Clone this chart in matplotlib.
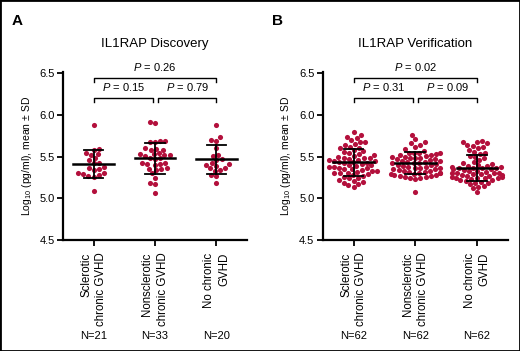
import numpy as np
import matplotlib
matplotlib.use("Agg")
import matplotlib.pyplot as plt
import matplotlib.transforms as mtransforms
import seaborn as sns

plt.rcParams['font.family'] = ['Liberation Sans', 'DejaVu Sans']
plt.rcParams['mathtext.fontset'] = 'custom'
plt.rcParams['mathtext.rm'] = 'Liberation Sans'
plt.rcParams['mathtext.it'] = 'Liberation Sans:italic'

# categories / labels
groups = ['Sclerotic\nchronic GVHD', 'Nonsclerotic\nchronic GVHD', 'No chronic\nGVHD']

# panel A: discovery
disc_scl = [5.88, 5.59, 5.58, 5.53, 5.52, 5.55, 5.48, 5.46, 5.43, 5.42, 5.37,
            5.38, 5.34, 5.30, 5.28, 5.27, 5.26, 5.29, 5.31, 5.09, 5.35]
disc_non = [5.90, 5.91, 5.69, 5.68, 5.67, 5.69, 5.59, 5.58, 5.58, 5.60, 5.53,
            5.52, 5.54, 5.51, 5.53, 5.52, 5.48, 5.48, 5.47, 5.41, 5.42, 5.40,
            5.41, 5.42, 5.35, 5.36, 5.35, 5.34, 5.25, 5.30, 5.19, 5.17, 5.06]
disc_no = [5.88, 5.73, 5.69, 5.70, 5.61, 5.51, 5.52, 5.46, 5.47, 5.40, 5.41,
           5.39, 5.42, 5.37, 5.36, 5.33, 5.34, 5.28, 5.27, 5.19]

# panel B: verification
ver_scl = [5.79, 5.76, 5.74, 5.72, 5.70, 5.68, 5.67, 5.65, 5.64, 5.62,
           5.61, 5.60, 5.58, 5.57, 5.56, 5.55, 5.53, 5.52, 5.51, 5.50,
           5.49, 5.48, 5.48, 5.47, 5.46, 5.46, 5.45, 5.45, 5.44, 5.44,
           5.43, 5.42, 5.41, 5.40, 5.40, 5.39, 5.38, 5.38, 5.37, 5.36,
           5.35, 5.35, 5.34, 5.33, 5.33, 5.32, 5.31, 5.30, 5.30, 5.29,
           5.28, 5.27, 5.26, 5.25, 5.24, 5.22, 5.21, 5.20, 5.19, 5.17,
           5.16, 5.14]
ver_non = [5.76, 5.71, 5.68, 5.66, 5.64, 5.62, 5.59, 5.57, 5.55, 5.55,
           5.54, 5.54, 5.53, 5.52, 5.52, 5.51, 5.50, 5.50, 5.49, 5.49,
           5.48, 5.47, 5.47, 5.46, 5.45, 5.45, 5.44, 5.44, 5.43, 5.42,
           5.42, 5.41, 5.40, 5.40, 5.39, 5.38, 5.38, 5.37, 5.36, 5.36,
           5.35, 5.35, 5.34, 5.33, 5.33, 5.32, 5.32, 5.31, 5.30, 5.30,
           5.29, 5.29, 5.28, 5.28, 5.27, 5.27, 5.26, 5.26, 5.25, 5.24,
           5.23, 5.08]
ver_no = [5.69, 5.68, 5.67, 5.66, 5.64, 5.63, 5.62, 5.60, 5.58, 5.56,
          5.55, 5.53, 5.51, 5.50, 5.48, 5.46, 5.44, 5.42, 5.41, 5.40,
          5.39, 5.39, 5.38, 5.38, 5.37, 5.37, 5.36, 5.36, 5.35, 5.35,
          5.34, 5.33, 5.33, 5.32, 5.31, 5.31, 5.30, 5.30, 5.29, 5.29,
          5.28, 5.28, 5.27, 5.27, 5.26, 5.26, 5.25, 5.25, 5.24, 5.24,
          5.23, 5.22, 5.22, 5.21, 5.20, 5.19, 5.18, 5.17, 5.15, 5.14,
          5.12, 5.08]

pvals_A = ['0.15', '0.79', '0.26']
pvals_B = ['0.31', '0.09', '0.02']

dot_color = '#b3103c'

fig = plt.figure(figsize=(5.2, 3.51), dpi=100)
fig.add_artist(plt.Rectangle((0, 0), 1, 1, transform=fig.transFigure,
                             fill=False, lw=2, edgecolor='black'))


def panel(ax, data, title, letter, pvals):
    pos = np.arange(3)
    xs = np.concatenate([np.full(len(d), p) for p, d in zip(pos, data)])
    ys = np.concatenate(data)
    sns.swarmplot(x=xs, y=ys, native_scale=True, ax=ax, color=dot_color,
                  size=3.7, linewidth=0, zorder=2)
    for p, d in zip(pos, data):
        m = np.mean(d); s = np.std(d, ddof=1)
        ax.plot([p - 0.33, p + 0.33], [m, m], color='black', lw=1.8, zorder=3)
        ax.plot([p, p], [m - s, m + s], color='black', lw=1.3, zorder=3)
        ax.plot([p - 0.16, p + 0.16], [m + s, m + s], color='black', lw=1.3, zorder=3)
        ax.plot([p - 0.16, p + 0.16], [m - s, m - s], color='black', lw=1.3, zorder=3)

    ax.set_xlim(-0.5, 2.5)
    ax.set_ylim(4.5, 6.52)
    ax.set_yticks([4.5, 5.0, 5.5, 6.0, 6.5])
    ax.set_yticklabels(['4.5', '5.0', '5.5', '6.0', '6.5'], fontsize=8)
    ax.set_xticks(pos)
    ax.set_xticklabels(groups, rotation=90, fontsize=8.3, multialignment='right',
                       linespacing=1.35)
    ax.tick_params(axis='both', length=4, width=1.3, pad=2)
    ax.tick_params(axis='x', pad=5)
    for sp in ['top', 'right']:
        ax.spines[sp].set_visible(False)
    for sp in ['left', 'bottom']:
        ax.spines[sp].set_linewidth(1.6)
    ax.set_ylabel('Log$_{10}$ (pg/ml), mean ± SD', fontsize=7.5, labelpad=4)
    ax.set_title(title, fontsize=9.5, pad=18)

    # brackets
    def bracket(x0, x1, y, txt, ty):
        ax.plot([x0, x0, x1, x1], [y - 0.05, y, y, y - 0.05], color='black',
                lw=1.0, clip_on=False)
        ax.text((x0 + x1) / 2, ty, '$P$ = ' + txt, ha='center', va='center',
                fontsize=8, clip_on=False)
    bracket(0, 0.97, 6.20, pvals[0], 6.34)
    bracket(1.05, 2.0, 6.20, pvals[1], 6.34)
    bracket(0, 2.0, 6.44, pvals[2], 6.58)

    tr = mtransforms.blended_transform_factory(ax.transData, fig.transFigure)
    for p, d in zip(pos, data):
        ax.text(p, 0.043, 'N=%d' % len(d), transform=tr, ha='center',
                va='center', fontsize=8)
    fig.text(ax.get_position().x0 - 0.098, 0.94, letter, fontsize=11,
             fontweight='bold', ha='left', va='center')


axA = fig.add_axes([0.121, 0.316, 0.354, 0.48])
panel(axA, [disc_scl, disc_non, disc_no], 'IL1RAP Discovery', 'A', pvals_A)
axB = fig.add_axes([0.6206, 0.316, 0.3563, 0.48])
panel(axB, [ver_scl, ver_non, ver_no], 'IL1RAP Verification', 'B', pvals_B)

fig.savefig('out.png', dpi=100)
